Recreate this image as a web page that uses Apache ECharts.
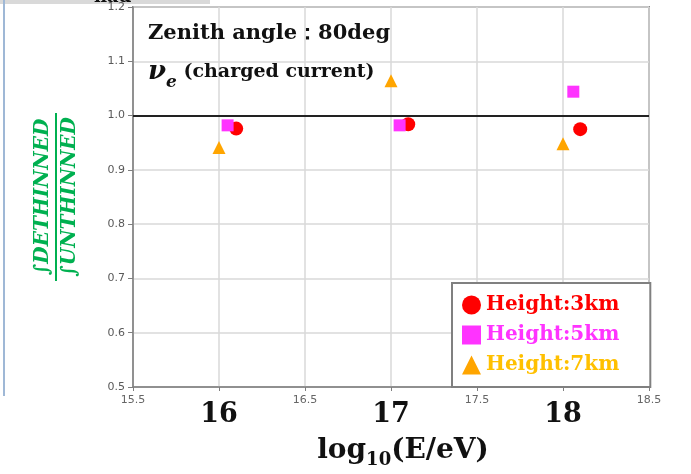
<!DOCTYPE html>
<html>
<head>
<meta charset="utf-8">
<script src="https://cdn.jsdelivr.net/npm/echarts@6/dist/echarts.min.js"></script>
<style>
  html, body { margin: 0; padding: 0; background: #fff; }
  #chart { width: 691px; height: 474px; }
</style>
</head>
<body>
<div id="chart"></div>
<script>
  // energies (log10 E/eV) for each height, slightly shifted like the original
  const energy3km = [16.1, 17.1, 18.1];
  const ratio3km = [0.976, 0.984, 0.975];
  const energy5km = [16.05, 17.05, 18.06];
  const ratio5km = [0.982, 0.982, 1.044];
  const energy7km = [16.0, 17.0, 18.0];
  const ratio7km = [0.941, 1.064, 0.948];

  const names = ['Height:3km', 'Height:5km', 'Height:7km'];
  const colors = ['#ff0000', '#ff33ff', '#ffa500'];
  const textColors = ['#ff0000', '#ff33ff', '#ffc000'];

  const serif = '"DejaVu Serif", "Liberation Serif", serif';

  function pairs(xs, ys) {
    return xs.map((x, i) => [x, ys[i]]);
  }

  const chart = echarts.init(document.getElementById('chart'));
  chart.setOption({
    animation: false,
    backgroundColor: '#fff',
    grid: {
      left: 133, right: 42, top: 7, bottom: 85,
      show: true, borderColor: '#8c8c8c', borderWidth: 2
    },
    title: {
      left: 143, top: 10,
      text: '{a|Zenith angle：80deg}\n{nu|ν}{e|e}{b| (charged current)}',
      textStyle: {
        rich: {
          a: { fontFamily: serif, fontWeight: 'bold', fontSize: 21, color: '#111', lineHeight: 38 },
          nu: { fontFamily: serif, fontWeight: 'bold', fontStyle: 'italic', fontSize: 26, color: '#111', lineHeight: 38 },
          e: { fontFamily: serif, fontWeight: 'bold', fontStyle: 'italic', fontSize: 17, color: '#111', verticalAlign: 'bottom', lineHeight: 32 },
          b: { fontFamily: serif, fontWeight: 'bold', fontSize: 19, color: '#111', lineHeight: 38 }
        }
      }
    },
    legend: {
      orient: 'vertical',
      left: 452, top: 283,
      padding: [12, 31, 12, 10],
      itemGap: 10,
      itemWidth: 19, itemHeight: 19,
      backgroundColor: '#fff',
      borderColor: '#808080', borderWidth: 2,
      textStyle: { fontFamily: serif, fontWeight: 'bold', fontSize: 20 },
      data: names.map((n, i) => ({ name: n, textStyle: { color: textColors[i] } }))
    },
    xAxis: {
      type: 'value',
      min: 15.5, max: 18.5, interval: 0.5,
      axisLine: { lineStyle: { color: '#7f7f7f', width: 1.5 } },
      axisTick: { show: true, length: 4, lineStyle: { color: '#7f7f7f' } },
      splitLine: { show: true, lineStyle: { color: '#d9d9d9', width: 1.5 } },
      axisLabel: {
        margin: 8,
        formatter: v => Number.isInteger(v) ? '{big|' + v + '}' : '{sm|' + v + '}',
        rich: {
          sm: { fontFamily: '"DejaVu Sans", sans-serif', fontSize: 11, color: '#666' },
          big: { fontFamily: serif, fontWeight: 'bold', fontSize: 27, color: '#111', padding: [6, 0, 0, 0] }
        }
      },
      name: '{sp| }{a|log}{s|10}{a|(E/eV)}',
      nameLocation: 'middle',
      nameGap: 46,
      nameTextStyle: {
        rich: {
          sp: { width: 24 },
          a: { fontFamily: serif, fontWeight: 'bold', fontSize: 28, color: '#111', lineHeight: 36 },
          s: { fontFamily: serif, fontWeight: 'bold', fontSize: 18, color: '#111', verticalAlign: 'bottom', lineHeight: 28 }
        }
      }
    },
    yAxis: {
      type: 'value',
      min: 0.5, max: 1.2, interval: 0.1,
      axisLine: { show: true, lineStyle: { color: '#7f7f7f', width: 1.5 } },
      axisTick: { show: true, length: 5, lineStyle: { color: '#7f7f7f' } },
      splitLine: { show: true, lineStyle: { color: '#d9d9d9', width: 1.5 } },
      axisLabel: {
        margin: 8,
        fontFamily: '"DejaVu Sans", sans-serif', fontSize: 11, color: '#595959',
        formatter: v => v.toFixed(1)
      },
      name: '{n|∫DETHINNED}\n{bar| }\n{d|∫UNTHINNED}',
      nameLocation: 'middle',
      nameGap: 52,
      nameTextStyle: {
        align: 'center',
        rich: {
          n: { fontFamily: serif, fontWeight: 'bold', fontStyle: 'italic', fontSize: 20, color: '#00b050', lineHeight: 23 },
          bar: { width: 168, height: 2, lineHeight: 4, backgroundColor: '#00b050' },
          d: { fontFamily: serif, fontWeight: 'bold', fontStyle: 'italic', fontSize: 20, color: '#00b050', lineHeight: 23 }
        }
      }
    },
    series: [
      {
        name: names[0], type: 'scatter', symbol: 'circle', symbolSize: 14,
        itemStyle: { color: colors[0], opacity: 1 }, z: 3,
        data: pairs(energy3km, ratio3km),
        markLine: {
          silent: true, symbol: 'none', label: { show: false },
          lineStyle: { color: '#222', width: 2, type: 'solid' },
          data: [{ yAxis: 1.0 }]
        }
      },
      {
        name: names[1], type: 'scatter', symbol: 'rect', symbolSize: 12,
        itemStyle: { color: colors[1], opacity: 1 }, z: 4,
        data: pairs(energy5km, ratio5km)
      },
      {
        name: names[2], type: 'scatter', symbol: 'triangle', symbolSize: 13,
        itemStyle: { color: colors[2], opacity: 1 }, z: 4,
        data: pairs(energy7km, ratio7km)
      }
    ],
    graphic: [
      { type: 'rect', left: 0, top: 0, shape: { width: 210, height: 4 }, style: { fill: '#d9d9d9' }, silent: true },
      { type: 'rect', left: 3, top: 0, shape: { width: 2, height: 396 }, style: { fill: '#9fb8d6' }, silent: true },
      { type: 'text', left: 94, top: -12, style: { text: 'nad', font: 'bold 18px ' + serif, fill: '#111' }, silent: true }
    ]
  });
</script>
</body>
</html>
